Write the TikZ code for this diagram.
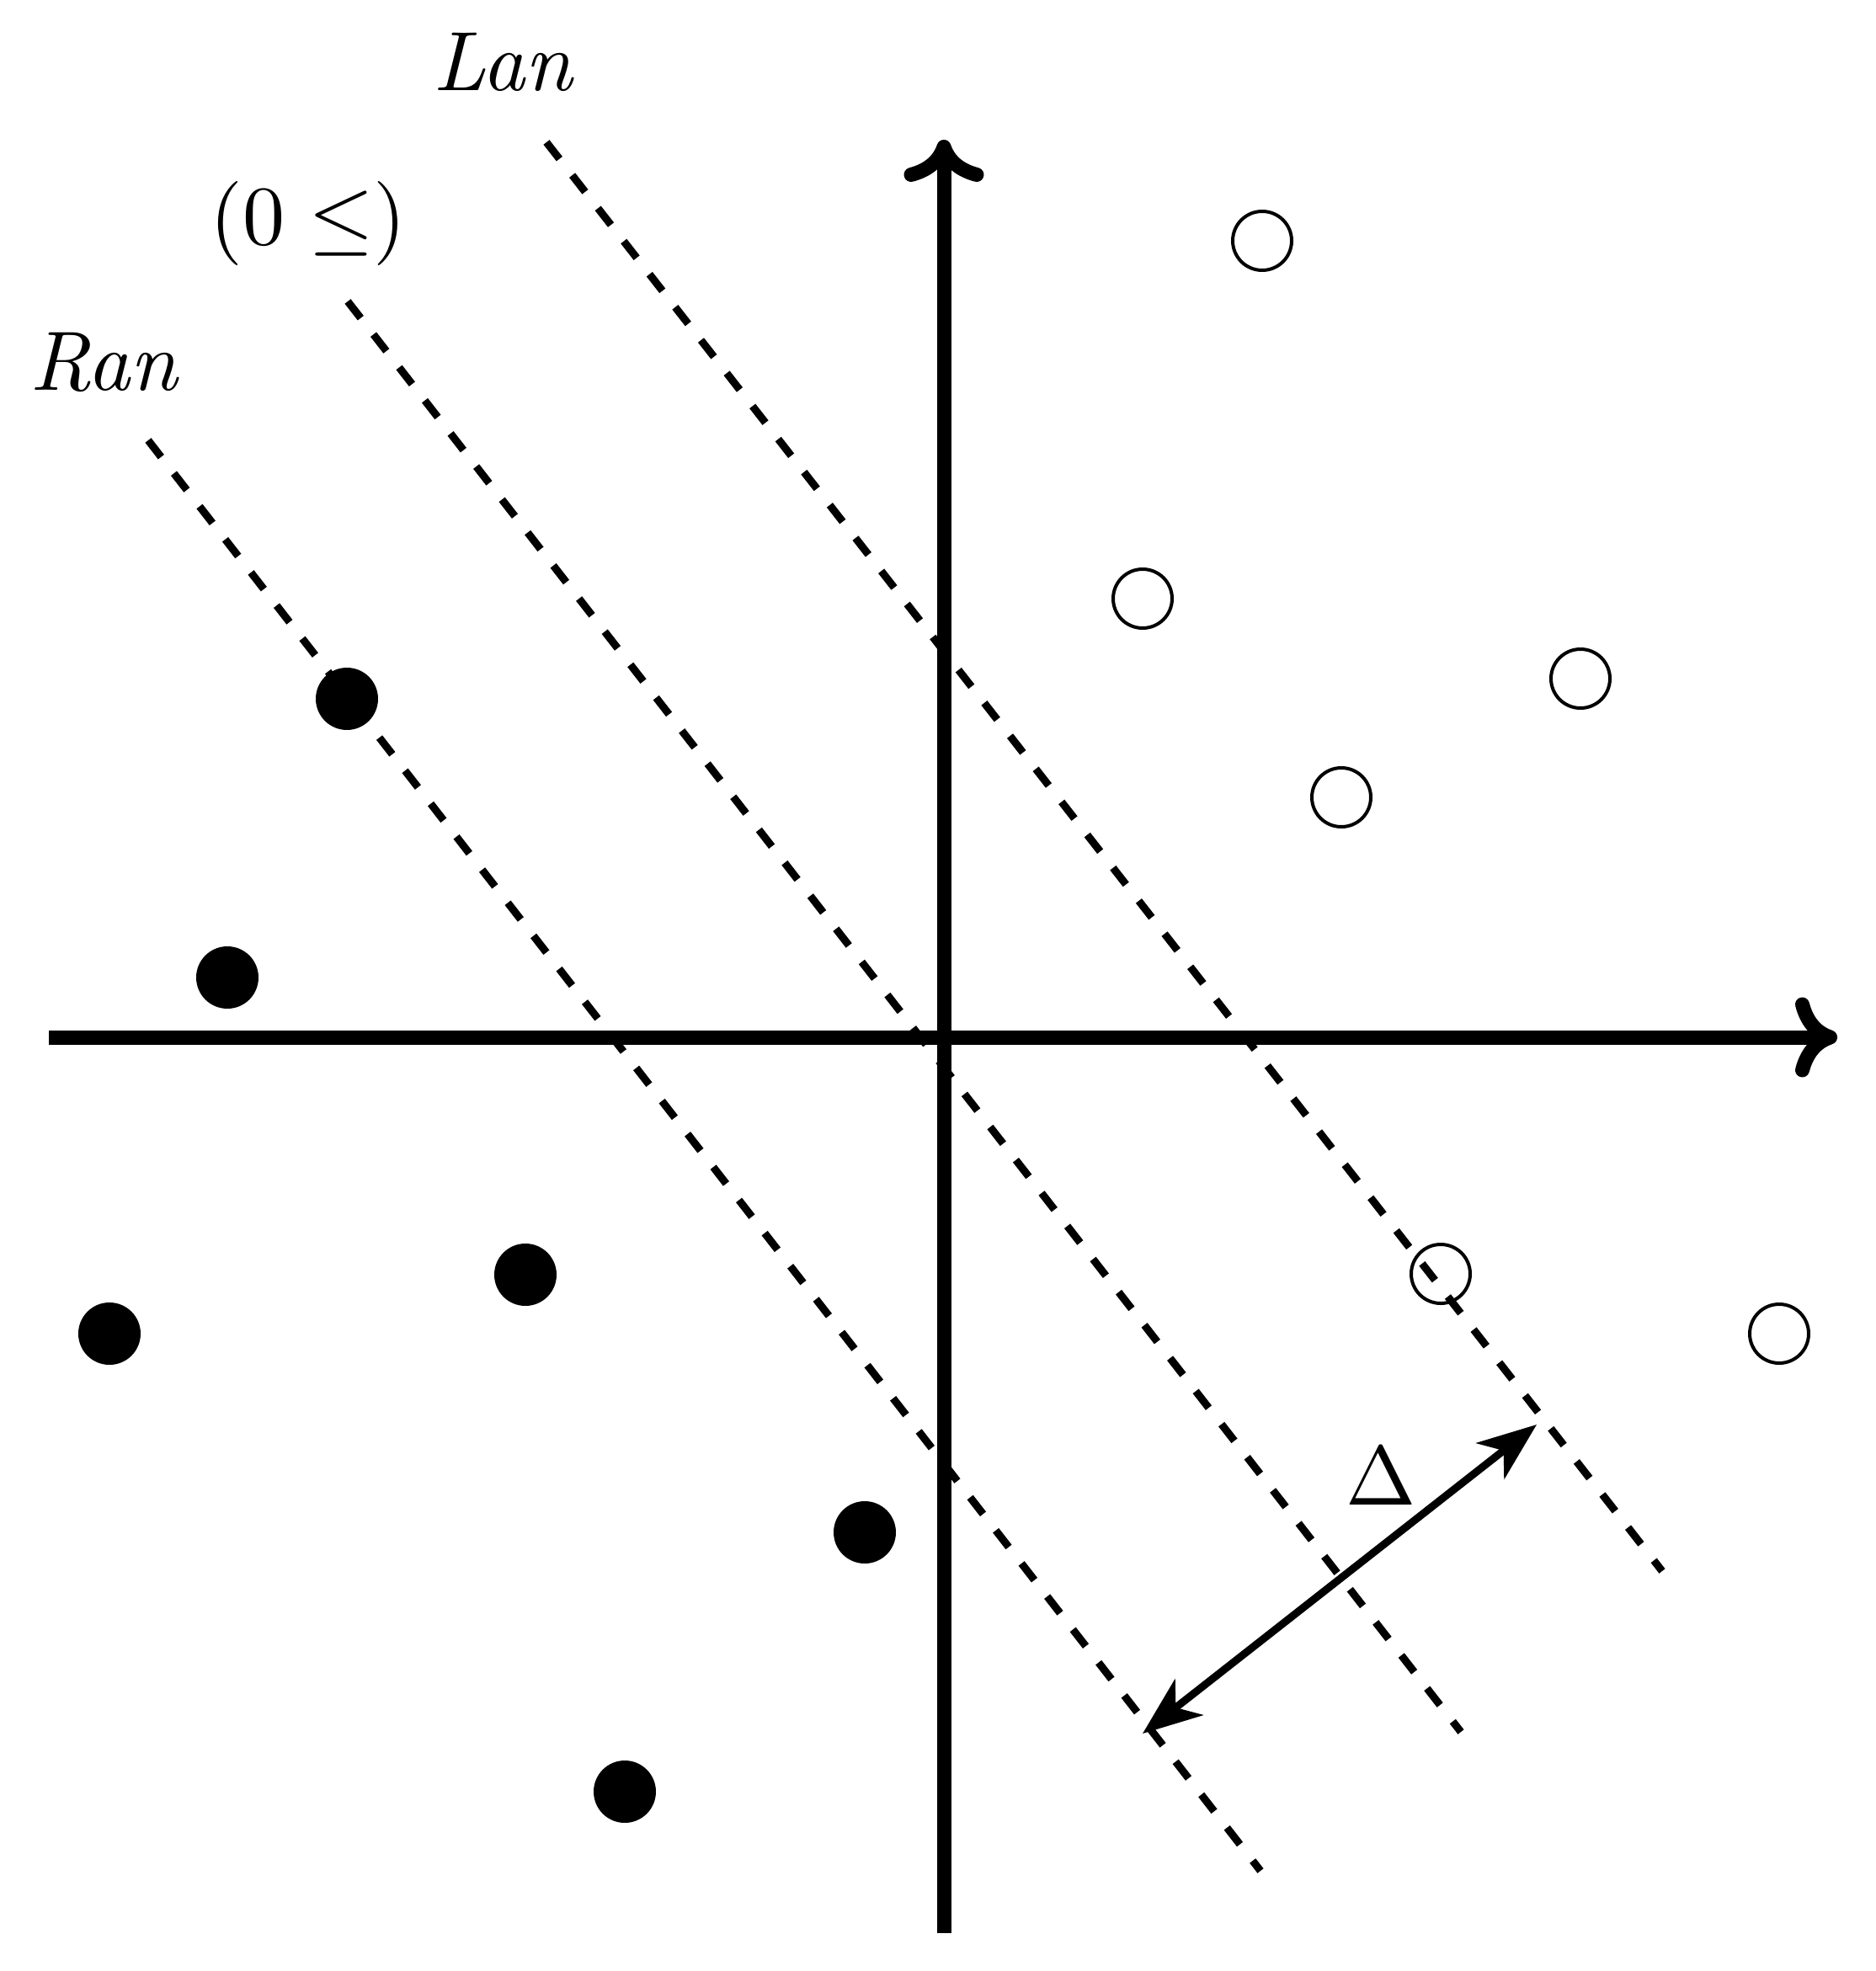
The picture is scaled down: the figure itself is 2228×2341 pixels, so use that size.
\documentclass[tikz,border=0pt]{standalone}
\usetikzlibrary{arrows.meta}
\begin{document}
\begin{tikzpicture}[x=0.1pt,y=-0.1pt,
  axis/.style={line width=1.7pt,line cap=butt,-{Computer Modern Rightarrow[length=5pt,width=9.5pt]}},
  sep/.style={line width=0.9pt,dash pattern=on 2.5pt off 2.47pt},
  opendot/.style={circle,draw,line width=0.4pt,minimum size=7pt,inner sep=0pt},
  fulldot/.style={circle,fill=black,minimum size=7.4pt,inner sep=0pt},
  lab/.style={inner sep=0pt,anchor=base},
  gap/.style={line width=0.9pt,{Stealth[length=7pt,width=5.4pt,inset=2pt]}-{Stealth[length=7pt,width=5.4pt,inset=2pt]}}]
\useasboundingbox (0,0) rectangle (2228,2341);
% axes
\coordinate (xl) at (58,1232);
\coordinate (xr) at (2182,1232);
\coordinate (yb) at (1121,2296);
\coordinate (yt) at (1121,166);
\draw[axis] (xl) -- (xr);
\draw[axis] (yb) -- (yt);
% dashed separating lines
\coordinate (lanA) at (649,169);
\coordinate (lanB) at (1974,1866);
\coordinate (zA) at (413,358);
\coordinate (zB) at (1735,2057);
\coordinate (ranA) at (176,523);
\coordinate (ranB) at (1497,2222);
\draw[sep] (lanA) -- (lanB);
\draw[sep] (zA) -- (zB);
\draw[sep] (ranA) -- (ranB);
% labels
\node[lab] (lan) at (598,108) {\textit{Lan}};
\node[lab] (zero) at (366,290) {$(0\leq)$};
\node[lab] (ran) at (124,463) {\textit{Ran}};
% open points
\node[opendot] (o1) at (1499,286) {};
\node[opendot] (o2) at (1357,711) {};
\node[opendot] (o3) at (1877,806) {};
\node[opendot] (o4) at (1593,947) {};
\node[opendot] (o5) at (1711,1513) {};
\node[opendot] (o6) at (2113,1584) {};
% filled points
\node[fulldot] (f1) at (412,830) {};
\node[fulldot] (f2) at (270,1161) {};
\node[fulldot] (f3) at (624,1514) {};
\node[fulldot] (f4) at (130,1584) {};
\node[fulldot] (f5) at (1027,1820) {};
\node[fulldot] (f6) at (742,2128) {};
% margin arrow
\coordinate (d1) at (1357,2059);
\coordinate (d2) at (1825,1692);
\draw[gap] (d1) -- (d2);
\node[lab] (delta) at (1640,1787) {$\Delta$};
\end{tikzpicture}
\end{document}
